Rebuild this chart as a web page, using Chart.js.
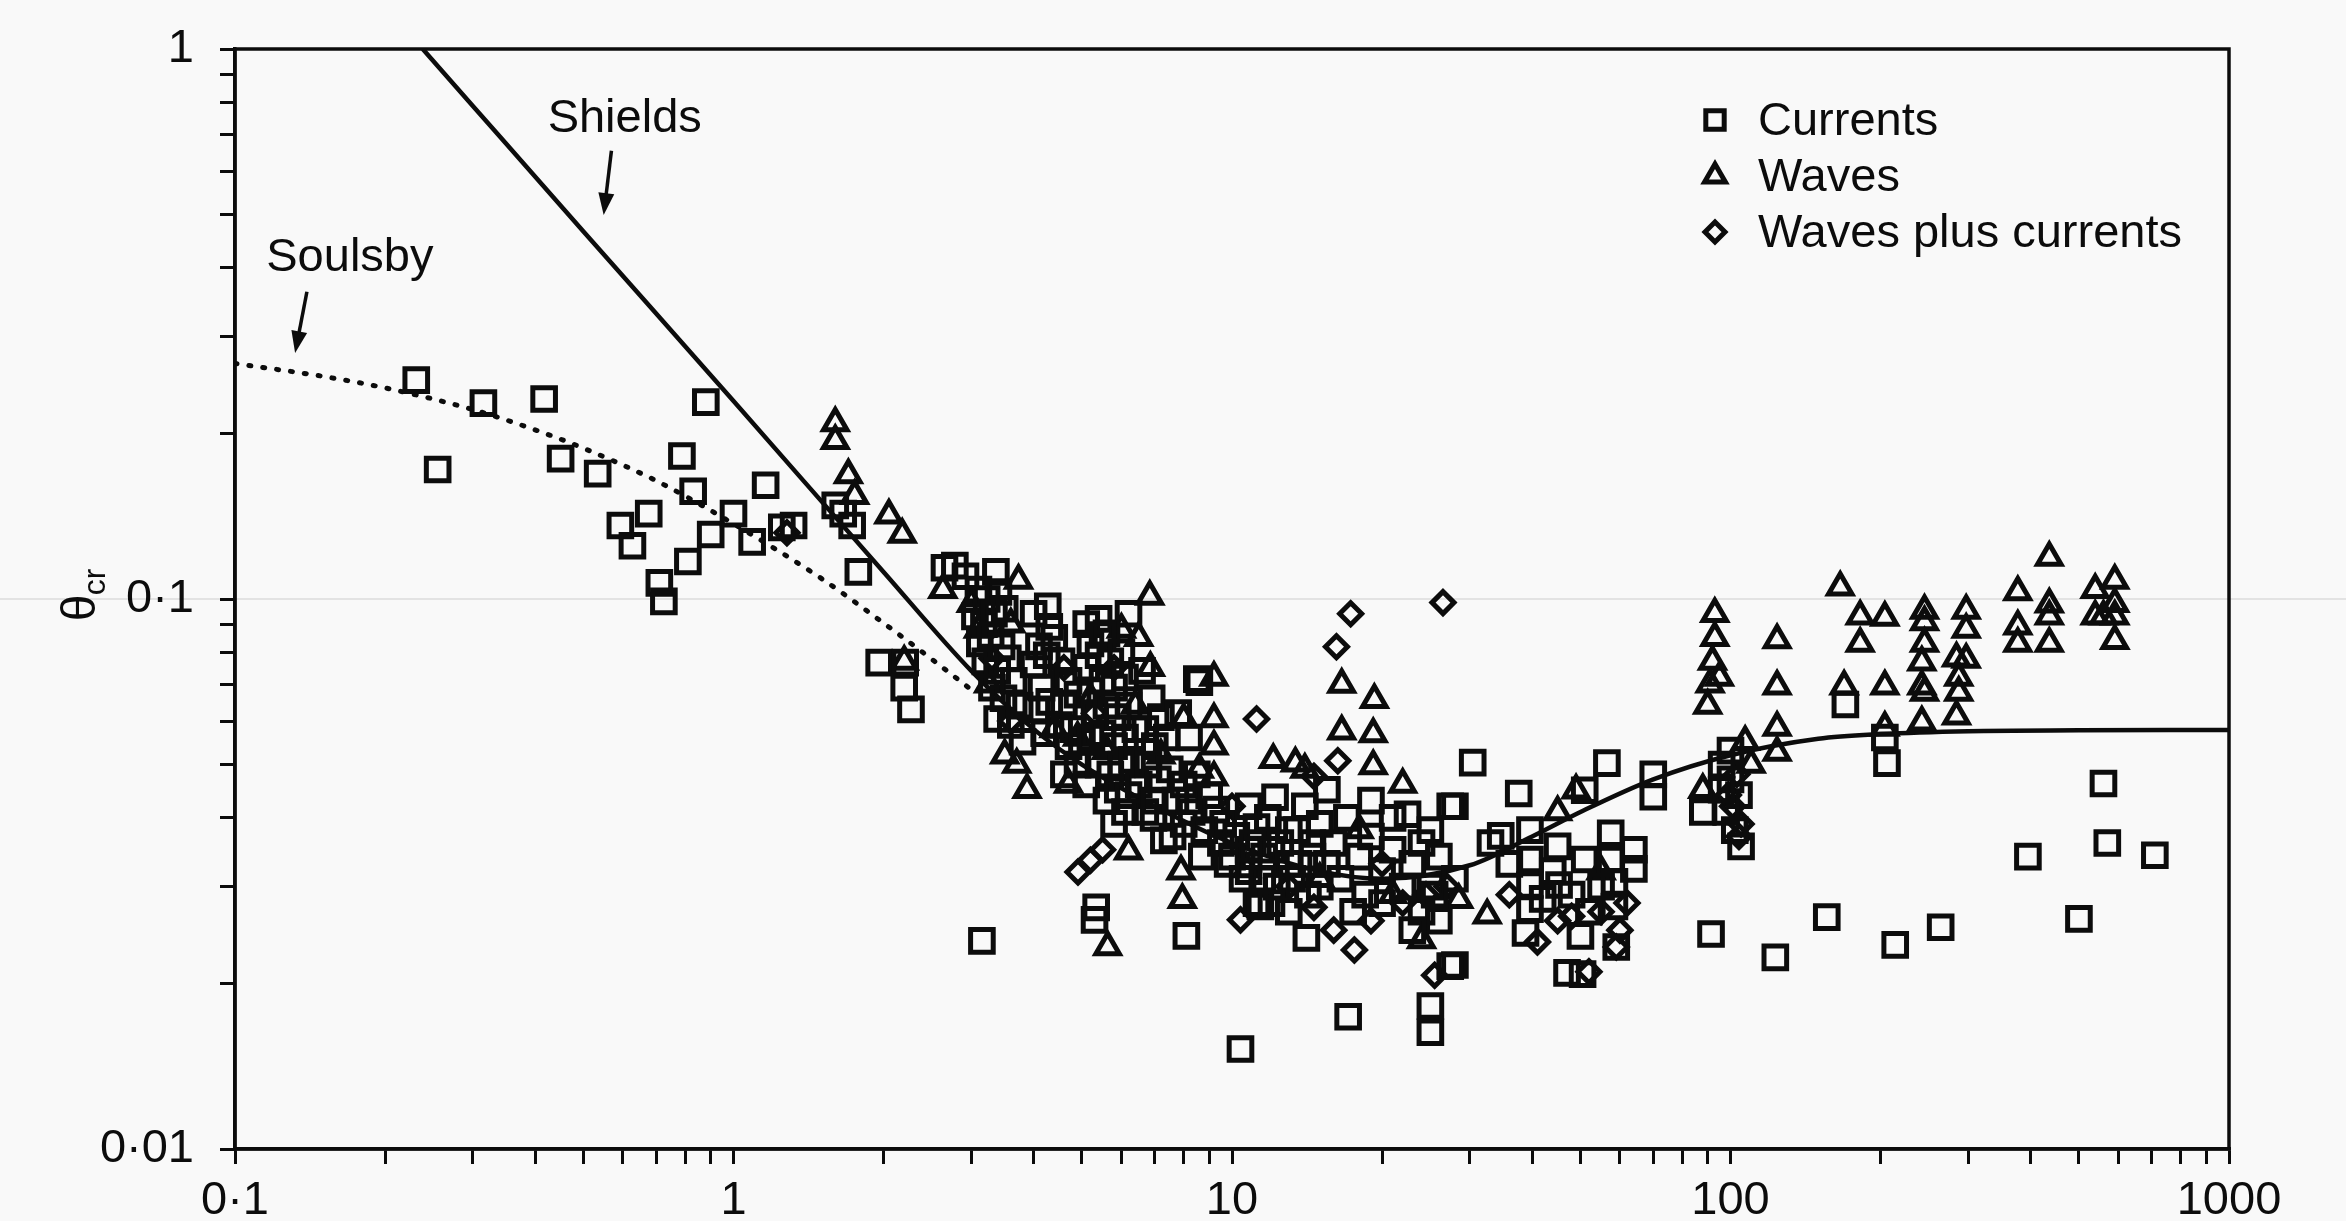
<!DOCTYPE html>
<html>
<head>
<meta charset="utf-8">
<script src="https://cdn.jsdelivr.net/npm/chart.js@4.4.0/dist/chart.umd.min.js"></script>
<style>
html,body{margin:0;padding:0;background:#f9f9f9;}
canvas{display:block;}
</style>
</head>
<body>
<canvas id="chart" width="2346" height="1221"></canvas>
<script>
// ---- data ----
const xTickVals = [0.1, 1, 10, 100, 1000];
const xTickLabels = ['0·1', '1', '10', '100', '1000'];
const yTickVals = [0.01, 0.1, 1];
const yTickLabels = ['0·01', '0·1', '1'];
const seriesNames = ['Currents', 'Waves', 'Waves plus currents'];
const curveNames = ['Shields', 'Soulsby'];

// squares
const currentsPts = [
  [0.231,0.25],[0.255,0.172],[0.315,0.227],[0.417,0.231],[0.45,0.18],[0.534,0.169],[0.593,0.136],[0.627,0.125],
  [0.676,0.143],[0.71,0.107],[0.725,0.099],[0.788,0.182],[0.83,0.157],[0.88,0.228],[0.81,0.117],[0.9,0.131],
  [1.0,0.143],[1.09,0.127],[1.16,0.161],[1.25,0.135],[1.32,0.136],[1.6,0.148],[1.66,0.143],[1.73,0.136],
  [1.78,0.112],[1.96,0.0766],[2.21,0.0766],[2.27,0.063],[2.2,0.069],[2.65,0.114],[2.78,0.115],[2.92,0.11],[3.15,0.0239],
  [3.1,0.104],[3.22,0.1],[3.36,0.112],[3.4,0.103],[3.05,0.093],[3.18,0.09],[3.33,0.094],[3.5,0.096],[3.12,0.083],
  [3.28,0.086],[3.45,0.082],[3.2,0.077],[3.38,0.074],[3.55,0.078],[3.3,0.069],[3.48,0.066],[3.65,0.071],[3.38,0.0605],
  [3.6,0.059],[3.75,0.064],[3.8,0.055],
  [4.0,0.094],[4.27,0.097],[4.3,0.089],[4.1,0.082],[4.4,0.085],[4.0,0.076],[4.25,0.079],[4.55,0.077],[4.15,0.069],
  [4.7,0.071],[4.05,0.063],[4.3,0.065],[4.6,0.064],[4.9,0.067],[4.2,0.057],[4.5,0.059],[4.8,0.058],[4.7,0.054],
  [5.0,0.055],[4.6,0.048],[4.9,0.05],[5.1,0.046],
  [5.1,0.09],[5.4,0.092],[5.6,0.0866],[6.2,0.094],[5.2,0.083],[5.5,0.086],[5.1,0.075],[5.4,0.079],[5.7,0.077],
  [6.0,0.08],[5.2,0.068],[5.5,0.071],[5.8,0.069],[6.1,0.072],[5.3,0.062],[5.6,0.064],[5.9,0.061],[6.2,0.064],
  [5.2,0.056],[5.5,0.057],[5.8,0.054],[6.1,0.056],[6.4,0.058],[5.4,0.05],[5.7,0.048],[6.0,0.05],[6.3,0.051],
  [5.6,0.043],[5.9,0.045],[6.2,0.044],[6.5,0.046],[5.8,0.039],[6.1,0.041],[6.7,0.041],[6.96,0.04],[7.3,0.0364],
  [6.6,0.074],[6.9,0.066],[7.2,0.061],[6.7,0.058],[7.0,0.054],[7.4,0.056],[6.8,0.05],[7.1,0.047],[7.5,0.049],
  [7.0,0.043],[7.7,0.043],[7.6,0.037],[8.0,0.039],
  [5.3,0.0261],[5.34,0.0275],[8.1,0.0244],[10.4,0.0152],
  [8.5,0.0715],[8.6,0.0706],[7.8,0.062],[8.2,0.056],[8.0,0.046],[8.5,0.048],[9.0,0.044],[9.3,0.0414],[8.3,0.041],
  [8.8,0.038],[9.5,0.036],[10.2,0.0371],[10.8,0.035],[11.2,0.0385],[11.6,0.034],[9.8,0.033],[10.5,0.031],
  [12.2,0.0436],[11.2,0.028],[12.5,0.036],[13.0,0.033],[11.4,0.0276],
  [8.2,0.043],[9.6,0.039],[11.0,0.036],[12.0,0.035],[13.6,0.033],[8.7,0.034],[10.0,0.034],[10.8,0.032],[11.5,0.031],
  [12.3,0.03],[13.2,0.031],[14.2,0.029],[15.0,0.03],[12.0,0.028],[13.0,0.027],[15.5,0.033],[14.5,0.036],[13.0,0.038],
  [11.8,0.04],[10.8,0.042],
  [14,0.042],[15,0.039],[16,0.036],[17,0.04],[18,0.034],[19,0.037],[20,0.032],[21,0.035],[22.5,0.0406],[23,0.033],
  [24,0.036],[25,0.03],[26,0.034],[27.4,0.042],[28,0.031],[14.5,0.034],[16.5,0.031],[18.5,0.029],[20,0.028],[22,0.03],
  [24,0.027],[26,0.026],[13.5,0.038],[15.5,0.045],[19,0.043],[21,0.04],[25,0.038],[17.5,0.027],[23,0.025],
  [14.1,0.0242],[17.1,0.0174],[25,0.0182],[25,0.0163],[27.4,0.0215],[28,0.0216],[28,0.042],[25.5,0.029],
  [30.4,0.0504],[37.6,0.0443],[56.5,0.0503],[70,0.048],[70,0.0437],[51,0.0449],[34.6,0.0371],[39.6,0.038],
  [39.6,0.0336],[39.6,0.0302],[39.6,0.0273],[38.8,0.0247],[45.3,0.0302],[45,0.0355],[51,0.0336],[57.5,0.0375],
  [57.5,0.0336],[58.5,0.0306],[58.5,0.0276],[52,0.027],[50,0.0244],[59,0.0233],[64,0.035],[64,0.0323],
  [50.5,0.0208],[47,0.0209],[44,0.032],[48,0.029],[55,0.03],[42,0.0285],[36,0.033],[33,0.036],
  [88,0.041],[91.4,0.0246],[96,0.05],[100,0.047],[104,0.044],[98,0.041],[102,0.038],[105,0.0355],[100,0.053],[96,0.045],
  [123,0.0223],[156,0.0264],[214,0.0235],[264,0.0253],[500,0.0262],[395,0.034],[560,0.0462],[570,0.036],
  [710,0.0342],[206,0.0503],[170,0.0643],[204,0.056]
];

// triangles
const wavesPts = [
  [1.6,0.209],[1.6,0.194],[1.7,0.168],[1.75,0.154],[2.05,0.142],[2.18,0.131],[2.2,0.077],[2.63,0.104],[3.73,0.108],
  [3.0,0.098],[3.1,0.088],[3.25,0.07],[3.6,0.09],[3.5,0.052],[3.88,0.045],[3.7,0.05],
  [4.4,0.058],[4.9,0.056],[5.6,0.053],[6.2,0.0348],[6.4,0.064],[6.84,0.101],[6.86,0.075],[6.0,0.088],[5.2,0.066],
  [4.7,0.046],[6.5,0.085],[7.2,0.052],[5.63,0.0233],
  [8.0,0.0605],[9.2,0.0605],[9.2,0.072],[9.2,0.054],[8.6,0.049],[9.2,0.0474],[7.9,0.032],[7.95,0.0284],[10.7,0.0323],
  [12.1,0.051],[13.4,0.0503],
  [16.6,0.0699],[16.6,0.0575],[19.3,0.0656],[19.2,0.0568],[19.2,0.0497],[14,0.049],[22,0.046],[18,0.038],
  [28.5,0.0284],[32.5,0.0266],[21,0.029],[15,0.031],[24,0.024],
  [49,0.0449],[45,0.041],[55,0.032],
  [93,0.094],[93,0.085],[92,0.077],[91,0.07],[90,0.064],[88,0.045],[95,0.072],[107,0.055],[110,0.05],
  [124,0.0842],[124,0.0694],[124,0.0584],[124,0.0526],[166,0.105],[182,0.093],[204,0.0925],[182,0.083],[169,0.0694],
  [204,0.0694],[204,0.0584],[245,0.0953],[245,0.0908],[245,0.083],[242,0.0767],[242,0.0694],[245,0.0676],[242,0.0597],
  [297,0.0953],[297,0.088],[297,0.0776],[284,0.078],[287,0.072],[287,0.0676],[284,0.0612],[377,0.103],[377,0.0892],
  [377,0.083],[436,0.119],[436,0.0978],[436,0.093],[436,0.083],[539,0.104],[539,0.093],[590,0.108],[590,0.098],
  [590,0.093],[590,0.084],[560,0.093]
];

// diamonds
const wavesCurrentsPts = [
  [1.28,0.132],[3.3,0.078],[3.6,0.06],[4.91,0.0319],[5.2,0.0335],[5.5,0.035],[5.8,0.075],[4.6,0.075],[5.3,0.062],
  [11.2,0.0605],[10.0,0.042],[10.4,0.0261],[14.6,0.0476],
  [17.3,0.094],[16.2,0.0819],[26.5,0.0985],[16.3,0.0508],[14.6,0.0275],[17.6,0.023],[25.5,0.0207],[16,0.025],
  [19,0.026],[22,0.028],[20,0.033],[24.5,0.029],[27,0.03],[13,0.03],
  [41,0.0238],[59,0.0233],[60,0.025],[55,0.027],[48,0.0265],[52,0.021],[45,0.026],[62,0.028],[36,0.029],
  [103,0.048],[101,0.042],[105,0.039],[104,0.037],[99,0.044]
];

// curves
const shieldsPts = [
  [0.238,1.0],[0.3,0.788],[0.5,0.466],[1,0.229],[2,0.112],[3,0.074],[4,0.058],[5,0.05],[7,0.042],[10,0.036],
  [15,0.032],[20,0.031],[30,0.0328],[40,0.037],[50,0.041],[70,0.047],[100,0.052],[150,0.0557],[200,0.0568],
  [300,0.0575],[500,0.0577],[1000,0.0578]
];
const soulsbyPts = [
  [0.1,0.268],[0.15,0.254],[0.2,0.242],[0.3,0.221],[0.4,0.203],[0.5,0.188],[0.7,0.164],[1,0.137],
  [1.5,0.109],[2,0.0904],[2.5,0.0777],[3,0.0684]
];

const ink = '#0c0c0c';
const font = '"Liberation Sans", Arial, Helvetica, sans-serif';
const toXY = arr => arr.map(p => ({ x: p[0], y: p[1] }));

// ---- helpers ----
function logTicks(scale){
  const t = [];
  for (let e = Math.round(Math.log10(scale.min)); e < Math.round(Math.log10(scale.max)); e++) {
    for (let m = 1; m < 10; m++) t.push({ value: m * Math.pow(10, e), major: m === 1 });
  }
  t.push({ value: scale.max, major: true });
  scale.ticks = t;
}
function tickLabel(vals, labels){
  return v => {
    const i = vals.findIndex(t => Math.abs(t - v) / t < 1e-6);
    return i < 0 ? '' : labels[i];
  };
}

// ---- plugins ----
const scanLine = {
  id: 'scanLine',
  beforeDraw(chart){
    const y = chart.scales.y.getPixelForValue(0.1);
    const ctx = chart.ctx;
    ctx.save();
    ctx.fillStyle = '#e3e3e3';
    ctx.fillRect(0, y - 1, chart.width, 2);
    ctx.restore();
  }
};

const frame = {
  id: 'frame',
  afterDatasetsDraw(chart){
    const { ctx, chartArea: a } = chart;
    ctx.save();
    ctx.strokeStyle = ink;
    ctx.lineWidth = 3.5;
    ctx.strokeRect(a.left, a.top, a.right - a.left, a.bottom - a.top);
    ctx.restore();
  }
};

const boxLegend = {
  id: 'boxLegend',
  afterDraw(chart){
    const { ctx, chartArea: a } = chart;
    const radii = [13, 12, 10];
    ctx.save();
    ctx.font = '47px ' + font;
    ctx.textBaseline = 'middle';
    [0, 1, 2].forEach((di, k) => {
      const ds = chart.data.datasets[di];
      const y = a.top + 71 + k * 56;
      ctx.fillStyle = 'rgba(0,0,0,0)';
      ctx.strokeStyle = ink;
      ctx.lineWidth = 5;
      Chart.helpers.drawPoint(ctx, { pointStyle: ds.pointStyle, radius: radii[k], borderWidth: 5, rotation: 0 }, a.right - 514, y);
      ctx.fillStyle = ink;
      ctx.fillText(ds.label, a.right - 471, y + 2);
    });
    ctx.restore();
  }
};

// text + arrow notes, anchored in data units
const notes = [
  { text: curveNames[0], at: [0.605, 0.745], from: [0.569, 0.653], to: [0.549, 0.499] },
  { text: curveNames[1], at: [0.170, 0.416], from: [0.1394, 0.362], to: [0.132, 0.28] }
];
const arrows = {
  id: 'arrows',
  afterDraw(chart){
    const { ctx, scales: { x, y } } = chart;
    ctx.save();
    ctx.fillStyle = ink;
    ctx.strokeStyle = ink;
    ctx.font = '47px ' + font;
    ctx.textAlign = 'center';
    ctx.textBaseline = 'middle';
    notes.forEach(n => {
      ctx.fillText(n.text, x.getPixelForValue(n.at[0]), y.getPixelForValue(n.at[1]));
      const x0 = x.getPixelForValue(n.from[0]), y0 = y.getPixelForValue(n.from[1]);
      const x1 = x.getPixelForValue(n.to[0]), y1 = y.getPixelForValue(n.to[1]);
      const ang = Math.atan2(y1 - y0, x1 - x0);
      ctx.lineWidth = 3.5;
      ctx.beginPath();
      ctx.moveTo(x0, y0);
      ctx.lineTo(x1 - 14 * Math.cos(ang), y1 - 14 * Math.sin(ang));
      ctx.stroke();
      ctx.beginPath();
      ctx.moveTo(x1, y1);
      ctx.lineTo(x1 - 22 * Math.cos(ang) + 8 * Math.sin(ang), y1 - 22 * Math.sin(ang) - 8 * Math.cos(ang));
      ctx.lineTo(x1 - 22 * Math.cos(ang) - 8 * Math.sin(ang), y1 - 22 * Math.sin(ang) + 8 * Math.cos(ang));
      ctx.closePath();
      ctx.fill();
    });
    ctx.restore();
  }
};

const yTitle = {
  id: 'yTitle',
  afterDraw(chart){
    const ctx = chart.ctx;
    const a = chart.chartArea;
    ctx.save();
    ctx.translate(a.left - 153, chart.scales.y.getPixelForValue(0.1) + 9);
    ctx.rotate(-Math.PI / 2);
    ctx.fillStyle = ink;
    ctx.textAlign = 'center';
    ctx.textBaseline = 'middle';
    ctx.font = '48px ' + font;
    ctx.fillText('θ', 0, 0);
    ctx.font = '32px ' + font;
    ctx.fillText('cr', 26, 14);
    ctx.restore();
  }
};

// ---- chart ----
const pointBase = { showLine: false, borderColor: ink, backgroundColor: 'rgba(0,0,0,0)', pointBorderWidth: 5 };

new Chart(document.getElementById('chart'), {
  type: 'scatter',
  data: {
    datasets: [
      { ...pointBase, label: seriesNames[0], data: toXY(currentsPts), pointStyle: 'rect', pointRadius: 16 },
      { ...pointBase, label: seriesNames[1], data: toXY(wavesPts), pointStyle: 'triangle', pointRadius: 13.5 },
      { ...pointBase, label: seriesNames[2], data: toXY(wavesCurrentsPts), pointStyle: 'rectRot', pointRadius: 11 },
      { label: curveNames[0], data: toXY(shieldsPts), showLine: true, pointRadius: 0, borderColor: ink,
        borderWidth: 4.5, cubicInterpolationMode: 'monotone' },
      { label: curveNames[1], data: toXY(soulsbyPts), showLine: true, pointRadius: 0, borderColor: ink,
        borderWidth: 5, borderDash: [2, 12], borderCapStyle: 'round', cubicInterpolationMode: 'monotone' }
    ]
  },
  options: {
    responsive: false,
    animation: false,
    devicePixelRatio: 1,
    layout: { padding: { top: 49, right: 117, left: 0, bottom: 0 } },
    plugins: { legend: { display: false }, tooltip: { enabled: false } },
    scales: {
      x: {
        type: 'logarithmic', min: 0.1, max: 1000,
        afterBuildTicks: logTicks,
        afterFit: s => { s.height = 72; },
        border: { display: true, color: ink, width: 3.5 },
        grid: { drawOnChartArea: false, drawTicks: true, tickLength: 15, color: ink, lineWidth: 3 },
        ticks: { autoSkip: false, maxRotation: 0, padding: 9, color: ink, font: { family: font, size: 47 },
          callback: tickLabel(xTickVals, xTickLabels) }
      },
      y: {
        type: 'logarithmic', min: 0.01, max: 1,
        afterBuildTicks: logTicks,
        afterFit: s => { s.width = 235; s.paddingTop = 0; s.paddingBottom = 0; },
        border: { display: true, color: ink, width: 3.5 },
        grid: { drawOnChartArea: false, drawTicks: true, tickLength: 15, color: ink, lineWidth: 3 },
        ticks: { autoSkip: false, padding: 26, color: ink, font: { family: font, size: 47 },
          callback: tickLabel(yTickVals, yTickLabels) }
      }
    }
  },
  plugins: [scanLine, frame, boxLegend, arrows, yTitle]
});
</script>
</body>
</html>
